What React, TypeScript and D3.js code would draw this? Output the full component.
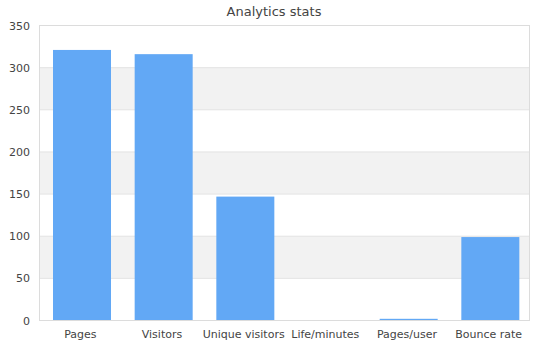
import React from "react";
import * as d3 from "d3";

const categories = ["Pages", "Visitors", "Unique visitors", "Life/minutes", "Pages/user", "Bounce rate"];
const values = [321, 316, 147, 0.3, 2, 99];
const yTicks = [0, 50, 100, 150, 200, 250, 300, 350];
const title = "Analytics stats";

export default function App() {
  const W = 550, H = 350;
  const left = 39.5, right = 529.5, top = 25.5, bottom = 320.5;
  const x = d3.scaleBand<string>().domain(categories).range([left, right]);
  const y = d3.scaleLinear().domain([0, 350]).range([bottom, top]);
  const bw = x.bandwidth();
  const barW = 58;
  const barOff = 14;
  const font = "DejaVu Sans, Verdana, sans-serif";
  return (
    <svg width={W} height={H} style={{ position: "absolute", left: 0, top: 0, background: "#fff" }}>
      <text x={274} y={16} textAnchor="middle" fontFamily={font} fontSize={13} fill="#444">{title}</text>
      {yTicks.slice(0, -1).map((t, i) =>
        i % 2 === 1 ? (
          <rect key={"b" + t} x={left} y={y(t + 50)} width={right - left} height={y(t) - y(t + 50)} fill="#f2f2f2" />
        ) : null
      )}
      {yTicks.map((t) => (
        <line key={"g" + t} x1={left} x2={right} y1={y(t)} y2={y(t)} stroke="#e3e3e3" strokeWidth={1} />
      ))}
      <rect x={left} y={top} width={right - left} height={bottom - top} fill="none" stroke="#dcdcdc" strokeWidth={1} />
      {categories.map((c, i) => {
        const v = values[i];
        const y0 = y(0) - 0.5;
        const h = Math.max(y0 - y(v), 0);
        return <rect key={c} x={(x(c) as number) + barOff - 0.5} y={y0 - h} width={barW} height={h} fill="#62a8f5" />;
      })}
      {yTicks.map((t) => (
        <text key={"t" + t} x={30} y={y(t) + 4} textAnchor="end" fontFamily={font} fontSize={11} fill="#444">{t}</text>
      ))}
      {categories.map((c) => (
        <text key={"l" + c} x={(x(c) as number) + bw / 2} y={338} textAnchor="middle" fontFamily={font} fontSize={11} fill="#444">{c}</text>
      ))}
    </svg>
  );
}
